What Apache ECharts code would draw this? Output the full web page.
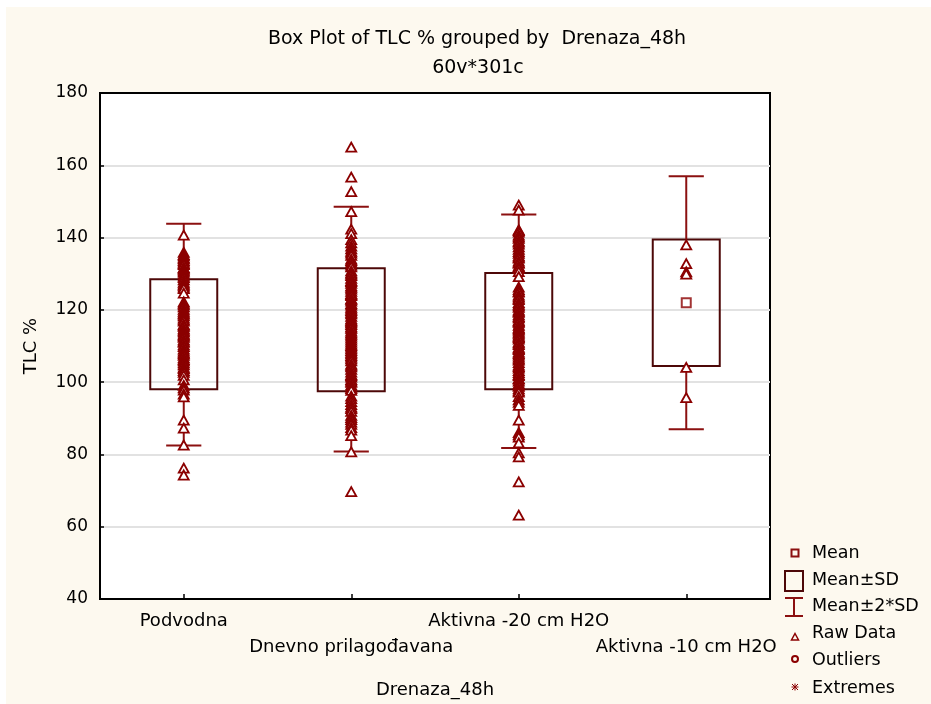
<!DOCTYPE html>
<html>
<head>
<meta charset="utf-8">
<script src="https://cdn.jsdelivr.net/npm/echarts@6/dist/echarts.min.js"></script>
<style>
html,body{margin:0;padding:0;background:#fff;}
#bg{position:absolute;left:6px;top:7px;width:925px;height:697px;background:#fdf9ef;}
#chart{position:absolute;left:0;top:0;width:931px;height:704px;}
</style>
</head>
<body>
<div id="bg"></div>
<div id="chart"></div>
<script>
const categories = ['Podvodna', 'Dnevno prilagođavana', 'Aktivna -20 cm H2O', 'Aktivna -10 cm H2O'];
const means = [113.2, 114.5, 114.1, 122.0];
const sdLow = [98.0, 97.5, 98.0, 104.5];
const sdHigh = [128.5, 131.5, 130.2, 139.5];
const sd2Low = [82.5, 80.8, 81.8, 87.0];
const sd2High = [143.8, 148.5, 146.4, 157.0];
const yTicks = [40, 60, 80, 100, 120, 140, 160, 180];

const rawPodvodna = [140.7, 135.9, 135.3, 134.9, 134.4, 134.1, 133.6, 133.2, 132.8, 132.5, 131.7, 131.5, 131.2, 130.8, 130.4, 129.9, 129.3, 128.9, 128.3, 127.6, 127.1, 126.8, 126.3, 125.9, 124.6, 122.2, 121.8, 121.4, 120.8, 120.1, 119.6, 119.1, 118.8, 118.3, 117.7, 117.2, 116.9, 116.0, 115.8, 115.4, 114.7, 114.3, 113.9, 113.3, 113.0, 112.7, 112.4, 111.7, 111.3, 111.0, 110.3, 109.8, 109.1, 108.6, 108.1, 107.8, 107.4, 106.7, 106.2, 105.9, 105.3, 104.8, 104.1, 103.7, 103.2, 102.7, 101.9, 100.6, 99.1, 98.4, 97.8, 96.7, 95.9, 89.5, 87.3, 82.6, 76.2, 74.3];
const rawDnevno = [165.0, 156.7, 152.7, 147.2, 142.3, 141.1, 139.4, 138.5, 137.6, 136.9, 136.2, 135.7, 135.1, 134.0, 133.6, 133.1, 132.4, 131.9, 130.8, 130.2, 129.9, 129.5, 128.7, 128.1, 127.8, 127.3, 126.6, 126.2, 125.7, 125.1, 124.5, 124.2, 123.9, 123.0, 122.9, 122.4, 121.7, 121.3, 120.7, 120.2, 119.8, 119.3, 118.9, 118.2, 117.5, 117.1, 116.8, 116.4, 115.9, 115.3, 114.9, 114.1, 113.6, 113.2, 112.7, 112.2, 111.6, 111.1, 110.5, 110.1, 109.7, 109.2, 108.7, 108.2, 107.8, 107.3, 106.9, 106.4, 105.9, 105.0, 104.6, 104.2, 103.5, 102.8, 102.1, 101.8, 101.4, 100.7, 100.3, 99.9, 99.2, 98.6, 98.2, 97.7, 96.1, 95.4, 94.6, 93.8, 93.1, 92.7, 91.9, 90.8, 90.2, 89.6, 88.9, 88.3, 87.4, 86.7, 85.2, 80.7, 69.7];
const rawAktivna20 = [149.0, 147.6, 142.1, 141.9, 141.5, 140.7, 140.2, 139.8, 139.0, 138.7, 138.2, 137.4, 136.7, 136.1, 135.6, 134.9, 134.6, 134.3, 133.5, 133.0, 132.9, 132.1, 131.9, 131.4, 130.6, 129.2, 126.3, 125.6, 125.1, 124.9, 124.1, 123.6, 123.2, 122.8, 122.0, 121.5, 121.1, 120.7, 119.9, 119.6, 119.3, 118.6, 118.1, 117.8, 117.1, 116.8, 116.5, 115.7, 115.0, 114.7, 114.4, 113.8, 113.5, 113.0, 112.6, 112.3, 111.9, 111.1, 110.8, 110.4, 109.6, 109.3, 109.0, 108.3, 107.9, 107.5, 106.9, 106.4, 106.1, 105.4, 104.7, 104.3, 103.9, 103.2, 102.6, 102.1, 101.8, 101.0, 100.8, 100.3, 99.6, 99.2, 98.8, 98.1, 97.6, 97.2, 96.0, 95.1, 94.4, 93.6, 89.5, 86.0, 85.4, 84.8, 83.2, 80.4, 79.3, 72.4, 63.2];
const rawAktivna10 = [138.0, 132.8, 130.5, 129.9, 104.1, 95.7];

const FONT = 'DejaVu Sans';
const BOX_COLOR = '#4d0808';
const WHISK_COLOR = '#8b1010';
const PT_COLOR = '#8b0000';

const rawGroups = [rawPodvodna, rawDnevno, rawAktivna20, rawAktivna10];
const rawData = [];
rawGroups.forEach((g, i) => g.forEach(v => rawData.push([categories[i], v])));
const boxData = categories.map((c, i) => [i, sdLow[i], sdHigh[i]]);
const whiskData = categories.map((c, i) => [i, sd2Low[i], sdLow[i], sdHigh[i], sd2High[i]]);
const meanData = categories.map((c, i) => [c, means[i]]);

const chart = echarts.init(document.getElementById('chart'), null, {renderer: 'canvas'});

const legendItems = [
  {label: 'Mean', y: 553},
  {label: 'Mean±SD', y: 580},
  {label: 'Mean±2*SD', y: 606},
  {label: 'Raw Data', y: 633},
  {label: 'Outliers', y: 660},
  {label: 'Extremes', y: 688}
];
const lx = 795;
const graphics = [
  {type: 'rect', shape: {x: lx - 3.5, y: 553 - 3.5, width: 7, height: 7}, style: {fill: 'none', stroke: WHISK_COLOR, lineWidth: 2}},
  {type: 'rect', shape: {x: 785, y: 571, width: 18, height: 20}, style: {fill: 'none', stroke: BOX_COLOR, lineWidth: 2}},
  {type: 'line', shape: {x1: 785, y1: 598, x2: 803, y2: 598}, style: {stroke: WHISK_COLOR, lineWidth: 2}},
  {type: 'line', shape: {x1: 794, y1: 598, x2: 794, y2: 616}, style: {stroke: WHISK_COLOR, lineWidth: 2}},
  {type: 'line', shape: {x1: 785, y1: 616, x2: 803, y2: 616}, style: {stroke: WHISK_COLOR, lineWidth: 2}},
  {type: 'polygon', shape: {points: [[lx, 633.5], [lx + 3.5, 640], [lx - 3.5, 640]]}, style: {fill: 'none', stroke: PT_COLOR, lineWidth: 1.5}},
  {type: 'circle', shape: {cx: lx, cy: 659, r: 3}, style: {fill: 'none', stroke: PT_COLOR, lineWidth: 2}},
  {type: 'line', shape: {x1: lx, y1: 683.5, x2: lx, y2: 690.5}, style: {stroke: PT_COLOR, lineWidth: 1}},
  {type: 'line', shape: {x1: lx - 3.5, y1: 687, x2: lx + 3.5, y2: 687}, style: {stroke: PT_COLOR, lineWidth: 1}},
  {type: 'line', shape: {x1: lx - 3, y1: 684, x2: lx + 3, y2: 690}, style: {stroke: PT_COLOR, lineWidth: 1}},
  {type: 'line', shape: {x1: lx + 3, y1: 684, x2: lx - 3, y2: 690}, style: {stroke: PT_COLOR, lineWidth: 1}}
];
legendItems.forEach(it => graphics.push({
  type: 'text', x: 812, y: it.y,
  style: {text: it.label, fill: '#000', font: '17.5px "' + FONT + '"', textAlign: 'left', textVerticalAlign: 'middle'}
}));

const option = {
  animation: false,
  backgroundColor: 'transparent',
  title: [
    {text: 'Box Plot of TLC % grouped by  Drenaza_48h', left: 477, top: 30, textAlign: 'center', padding: 0,
     textStyle: {fontFamily: FONT, fontSize: 19, fontWeight: 'normal', color: '#000'}},
    {text: '60v*301c', left: 478, top: 59, textAlign: 'center', padding: 0,
     textStyle: {fontFamily: FONT, fontSize: 19, fontWeight: 'normal', color: '#000'}}
  ],
  grid: {left: 100, top: 93, width: 670, height: 506, show: true, backgroundColor: '#fff', borderColor: '#000', borderWidth: 2},
  xAxis: {
    type: 'category', data: categories, boundaryGap: true,
    name: 'Drenaza_48h', nameLocation: 'middle', nameGap: 82,
    nameTextStyle: {fontFamily: FONT, fontSize: 18, color: '#000'},
    axisLine: {show: true, lineStyle: {color: '#000', width: 2}},
    axisTick: {show: true, inside: true, alignWithLabel: true, length: 5, lineStyle: {color: '#000', width: 1.5}},
    axisLabel: {interval: 0, margin: 9, fontFamily: FONT, fontSize: 18, color: '#000', lineHeight: 26,
      formatter: (v, i) => (i % 2 === 1 ? '\n' + v : v)},
    splitLine: {show: false}
  },
  yAxis: {
    type: 'value', min: 40, max: 180, interval: 20,
    name: 'TLC %', nameLocation: 'middle', nameGap: 60,
    nameTextStyle: {fontFamily: FONT, fontSize: 18, color: '#000'},
    axisLine: {show: true, lineStyle: {color: '#000', width: 2}},
    axisTick: {show: true, inside: true, length: 4, lineStyle: {color: '#000', width: 1.5}},
    axisLabel: {margin: 12, fontFamily: FONT, fontSize: 17, color: '#000',
      formatter: v => (yTicks.indexOf(v) >= 0 ? String(v) : '')},
    splitLine: {show: true, showMinLine: false, showMaxLine: false, lineStyle: {color: '#e2e2e2', width: 2}}
  },
  graphic: graphics,
  series: [
    {
      name: 'Mean±SD', type: 'custom', z: 2, data: boxData,
      renderItem: (params, api) => {
        const idx = api.value(0);
        const top = api.coord([idx, api.value(2)]);
        const bot = api.coord([idx, api.value(1)]);
        const w = api.size([1, 0])[0] * 0.4;
        return {type: 'rect', shape: {x: top[0] - w / 2, y: top[1], width: w, height: bot[1] - top[1]},
          style: {fill: 'none', stroke: BOX_COLOR, lineWidth: 2}};
      }
    },
    {
      name: 'Mean±2*SD', type: 'custom', z: 2, data: whiskData,
      renderItem: (params, api) => {
        const idx = api.value(0);
        const pLow2 = api.coord([idx, api.value(1)]);
        const pLow = api.coord([idx, api.value(2)]);
        const pHigh = api.coord([idx, api.value(3)]);
        const pHigh2 = api.coord([idx, api.value(4)]);
        const cw = api.size([1, 0])[0] * 0.21;
        const st = {stroke: WHISK_COLOR, lineWidth: 2};
        return {type: 'group', children: [
          {type: 'line', shape: {x1: pHigh2[0] - cw / 2, y1: pHigh2[1], x2: pHigh2[0] + cw / 2, y2: pHigh2[1]}, style: st},
          {type: 'line', shape: {x1: pHigh2[0], y1: pHigh2[1], x2: pHigh[0], y2: pHigh[1]}, style: st},
          {type: 'line', shape: {x1: pLow[0], y1: pLow[1], x2: pLow2[0], y2: pLow2[1]}, style: st},
          {type: 'line', shape: {x1: pLow2[0] - cw / 2, y1: pLow2[1], x2: pLow2[0] + cw / 2, y2: pLow2[1]}, style: st}
        ]};
      }
    },
    {
      name: 'Mean', type: 'scatter', z: 3, data: meanData, symbol: 'rect', symbolSize: 9,
      itemStyle: {color: '#fff', borderColor: PT_COLOR, borderWidth: 2}
    },
    {
      name: 'Raw Data', type: 'scatter', z: 4, data: rawData, symbol: 'triangle', symbolSize: [10, 9],
      itemStyle: {color: '#fff', borderColor: PT_COLOR, borderWidth: 1.8, opacity: 1}
    }
  ]
};
chart.setOption(option);
</script>
</body>
</html>
